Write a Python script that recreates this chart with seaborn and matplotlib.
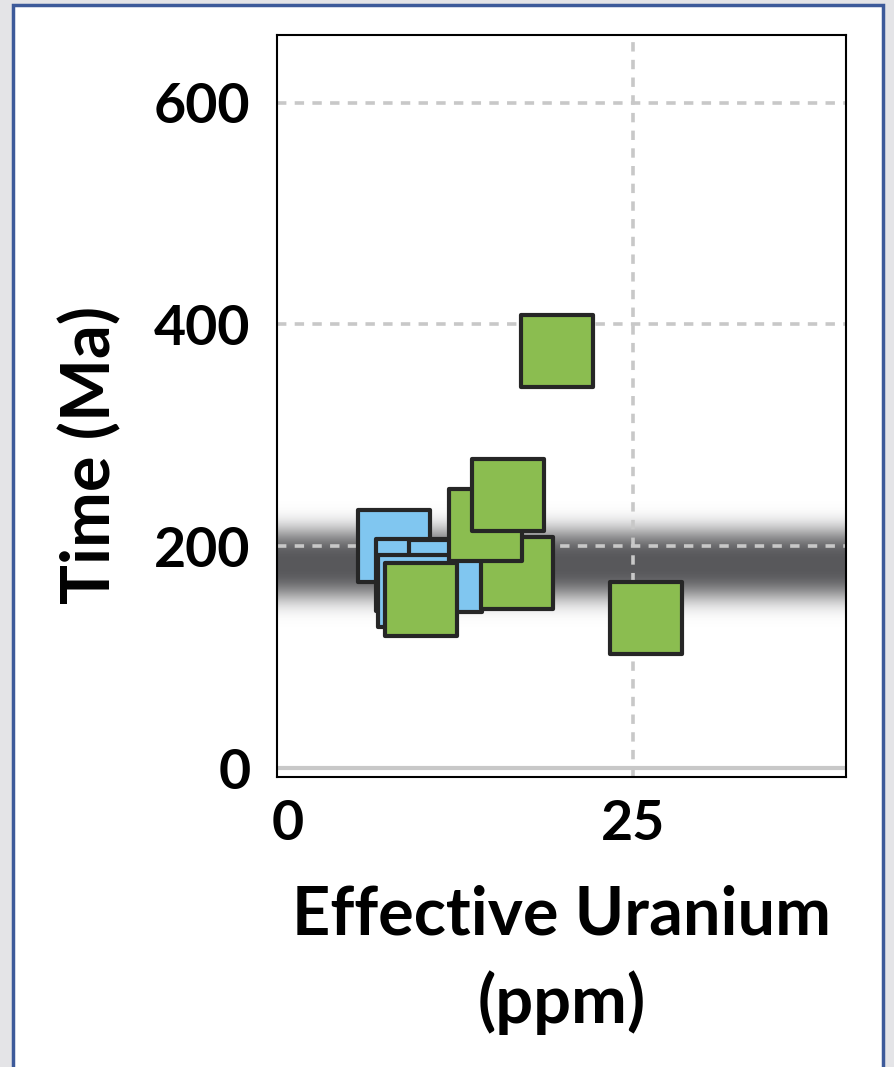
import numpy as np
import pandas as pd
import matplotlib
matplotlib.use("Agg")
import matplotlib.pyplot as plt
from matplotlib.patches import Rectangle
import seaborn as sns

# sample values (eU in ppm, age in Ma)
blue_eu = [7.7, 9.0, 11.4, 9.1]
blue_age = [200, 174, 173, 160]
green_eu = [16.6, 14.3, 15.9, 9.6, 25.9, 19.5]
green_age = [176, 219, 246, 152, 135, 376]

x_ticks = [0, 25]
y_ticks = [0, 200, 400, 600]

# shaded age band
band_center = 184
band_halfwidth = 32

df = pd.DataFrame({
    "eU": blue_eu + green_eu,
    "age": blue_age + green_age,
    "group": ["blue"] * len(blue_eu) + ["green"] * len(green_eu),
})

sns.set_style("white")
plt.rcParams["font.family"] = ["Lato", "DejaVu Sans"]
plt.rcParams["font.weight"] = "bold"
plt.rcParams["text.color"] = "black"
plt.rcParams["axes.labelcolor"] = "black"
plt.rcParams["xtick.color"] = "black"
plt.rcParams["ytick.color"] = "black"

fig = plt.figure(figsize=(8.95, 10.67), dpi=100)
fig.patch.set_facecolor("#e4e4e7")
fig.patches.append(Rectangle((13 / 895, -0.05), 870 / 895, 1.05 - 5 / 1067,
                             transform=fig.transFigure, facecolor="white",
                             edgecolor="#3d5a9a", linewidth=2.5, zorder=-10))

ax = fig.add_axes([0.3095, 0.2718, 0.6358, 0.6954])
xlim = (-0.8, 40.4)
ylim = (-8, 661)

# gradient band
yy = np.linspace(band_center - 70, band_center + 70, 300)
alpha = np.exp(-(np.abs(yy - band_center) / band_halfwidth) ** 3)
img = np.zeros((len(yy), 2, 4))
img[..., 0] = 0.345
img[..., 1] = 0.345
img[..., 2] = 0.353
img[..., 3] = alpha[:, None]
ax.imshow(img, extent=[xlim[0], xlim[1], yy[0], yy[-1]], origin="lower",
          aspect="auto", interpolation="bilinear", zorder=1)

# grid lines
grid_kw = dict(color="#c8c8c8", lw=2.6, ls=(0, (2.6, 2.3)), zorder=2)
for yv in y_ticks[1:]:
    ax.axhline(yv, **grid_kw)
ax.axvline(x_ticks[1], **grid_kw)
ax.axhline(0, color="#c8c8c8", lw=3, zorder=2)

sns.scatterplot(data=df, x="eU", y="age", hue="group",
                palette={"blue": "#80c6f0", "green": "#8bbd50"},
                marker="s", s=2700, edgecolor="#262626", linewidth=3,
                legend=False, zorder=3, ax=ax)

ax.set_xlim(*xlim)
ax.set_ylim(*ylim)
ax.set_xticks(x_ticks)
ax.set_yticks(y_ticks)
ax.tick_params(length=0, labelsize=40, colors="black")
ax.tick_params(axis="x", pad=16)
ax.tick_params(axis="y", pad=19)
for lab in ax.get_xticklabels() + ax.get_yticklabels():
    lab.set_fontweight("bold")

for sp in ax.spines.values():
    sp.set_color("black")
    sp.set_linewidth(1.5)

ax.set_xlabel("Effective Uranium\n(ppm)", fontsize=48, fontweight="bold",
              linespacing=1.45, va="top")
ax.xaxis.set_label_coords(0.5, -0.145)
ax.set_ylabel("Time (Ma)", fontsize=48, fontweight="bold")
ax.yaxis.set_label_coords(-0.272, 0.434)

fig.savefig("out.png", dpi=100, facecolor=fig.get_facecolor())
